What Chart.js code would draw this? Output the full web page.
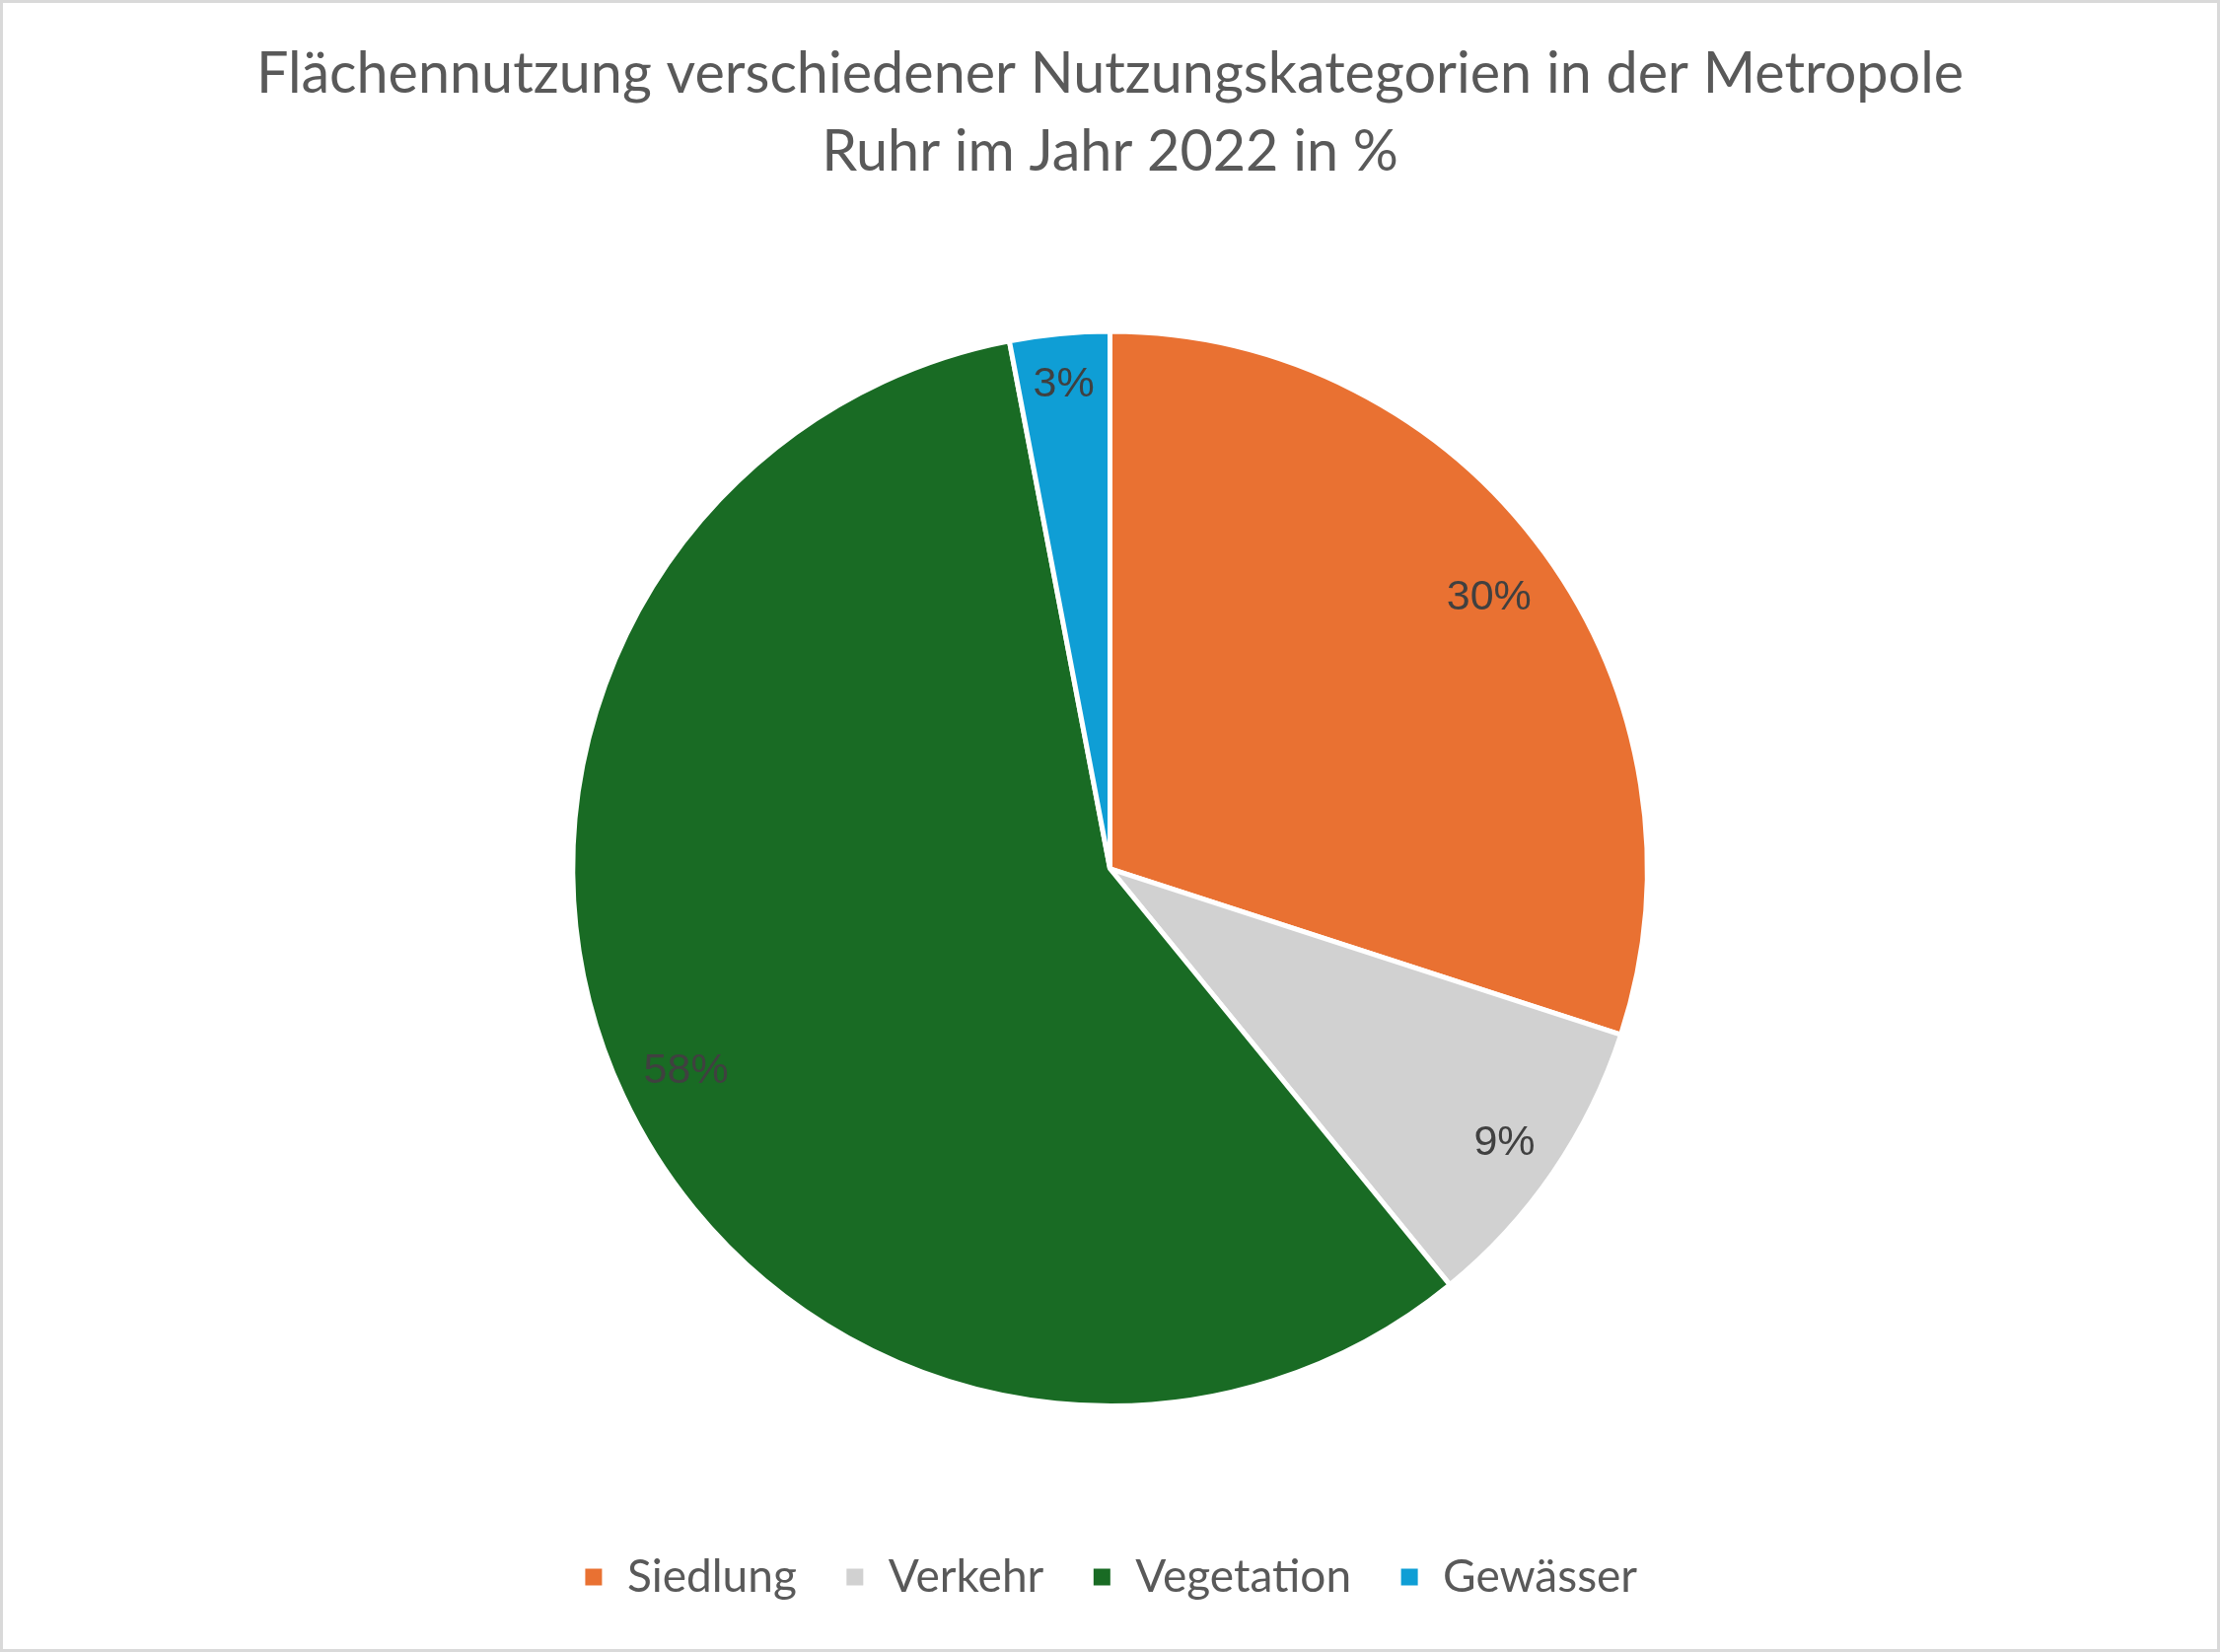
<!DOCTYPE html>
<html>
<head>
<meta charset="utf-8">
<script src="https://cdn.jsdelivr.net/npm/chart.js@4.4.1/dist/chart.umd.min.js"></script>
<style>
  html, body { margin: 0; padding: 0; background: #fff; }
  #wrap { width: 2251px; height: 1675px; box-sizing: border-box; border: 3px solid #D9D9D9; background: #fff; }
  canvas { display: block; }
</style>
</head>
<body>
<div id="wrap"><canvas id="c" width="2245" height="1669"></canvas></div>
<script>
const titleLines = ["Flächennutzung verschiedener Nutzungskategorien in der Metropole", "Ruhr im Jahr 2022 in %"];
const categories = ["Siedlung", "Verkehr", "Vegetation", "Gewässer"];
const shares = [30.0, 9.1, 57.9, 3.0];
const labels = ["30%", "9%", "58%", "3%"];
const colors = ["#E97132", "#D1D1D1", "#196B24", "#0F9ED5"];

// Excel-like "inside end" data labels
const valueLabels = {
  id: 'valueLabels',
  afterDatasetsDraw(chart) {
    const ctx = chart.ctx;
    const meta = chart.getDatasetMeta(0);
    ctx.save();
    ctx.font = '43px "Liberation Sans", Arial, sans-serif';
    ctx.fillStyle = '#404040';
    ctx.textAlign = 'center';
    ctx.textBaseline = 'middle';
    const halfH = 22, margin = 22;
    meta.data.forEach((arc, i) => {
      const p = arc.getProps(['x', 'y', 'startAngle', 'endAngle', 'outerRadius'], true);
      const mid = (p.startAngle + p.endAngle) / 2;
      const halfW = ctx.measureText(labels[i]).width / 2;
      const c = Math.cos(mid), s = Math.sin(mid);
      const off = margin + Math.abs(c) * halfW + Math.abs(s) * halfH;
      const r = p.outerRadius - off;
      ctx.fillText(labels[i], p.x + c * r, p.y + s * r + 5);
    });
    ctx.restore();
  }
};

new Chart(document.getElementById('c'), {
  type: 'pie',
  data: {
    labels: categories,
    datasets: [{
      data: shares,
      backgroundColor: colors,
      borderColor: '#FFFFFF',
      borderWidth: 5
    }]
  },
  plugins: [valueLabels],
  options: {
    responsive: false,
    devicePixelRatio: 1,
    animation: false,
    layout: { padding: { top: 0, bottom: 40, left: 0, right: 0 } },
    plugins: {
      title: {
        display: true,
        text: titleLines,
        color: '#595959',
        font: { family: 'Lato, "Open Sans", sans-serif', size: 57.5, weight: 'normal', lineHeight: 1.37 },
        padding: { top: 33, bottom: 140 }
      },
      legend: {
        position: 'bottom',
        title: { display: true, text: ' ', font: { size: 10 }, padding: { top: 88, bottom: 0 } },
        labels: {
          color: '#595959',
          font: { family: 'Lato, "Open Sans", sans-serif', size: 46 },
          boxWidth: 22,
          boxHeight: 22,
          padding: 48
        }
      },
      tooltip: { enabled: false }
    }
  }
});
</script>
</body>
</html>
